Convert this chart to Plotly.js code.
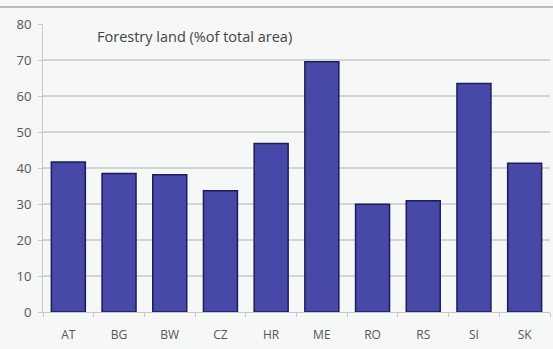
<!DOCTYPE html>
<html><head><meta charset="utf-8">
<script src="https://cdn.plot.ly/plotly-3.0.1.min.js"></script>
<style>html,body{margin:0;padding:0;background:#f6f7f7;}#c{width:553px;height:349px;}</style>
</head><body><div id="c"></div>
<script>
const countries = ['AT','BG','BW','CZ','HR','ME','RO','RS','SI','SK'];
const forestShare = [41.7, 38.5, 38.1, 33.7, 46.8, 69.5, 29.9, 30.9, 63.5, 41.3];
const yTicks = [0,10,20,30,40,50,60,70,80];
const chartTitle = 'Forestry land (%of total area)';

Plotly.newPlot('c', [{
  type: 'bar', x: countries, y: forestShare,
  marker: {color: '#4848a8', line: {color: '#1c1c5a', width: 1.5}},
  hoverinfo: 'x+y'
}], {
  width: 553, height: 349,
  margin: {l: 43, r: 3, t: 24, b: 37},
  paper_bgcolor: '#f6f7f7', plot_bgcolor: '#f6f7f7',
  bargap: 0.33,
  showlegend: false,
  xaxis: {
    showgrid: false, showline: true, linecolor: '#c8c8c8', linewidth: 1,
    ticks: 'outside', ticklen: 4, tickcolor: '#c8c8c8', tickson: 'boundaries',
    ticklabelstandoff: 12,
    tickfont: {family: 'Open Sans, sans-serif', size: 12, color: '#555'}
  },
  yaxis: {
    range: [0, 80], tickvals: yTicks, showgrid: true, gridcolor: '#d4d4d4', gridwidth: 1.2,
    showline: true, linecolor: '#c8c8c8', zeroline: false,
    ticks: 'outside', ticklen: 4, tickcolor: '#c8c8c8', ticklabelstandoff: 4,
    tickfont: {family: 'Open Sans, sans-serif', size: 13, color: '#555'}
  },
  annotations: [{
    text: chartTitle, xref: 'paper', yref: 'y', x: 0.103, y: 76.5,
    xanchor: 'left', yanchor: 'middle', showarrow: false,
    font: {family: 'Open Sans, sans-serif', size: 14.5, color: '#444'}
  }],
  shapes: [{
    type: 'line', xref: 'paper', yref: 'paper', x0: -0.085, x1: 1.006, y0: 1.059, y1: 1.059,
    line: {color: '#bbbbbb', width: 2}
  }]
}, {displayModeBar: false, staticPlot: true});
</script></body></html>
